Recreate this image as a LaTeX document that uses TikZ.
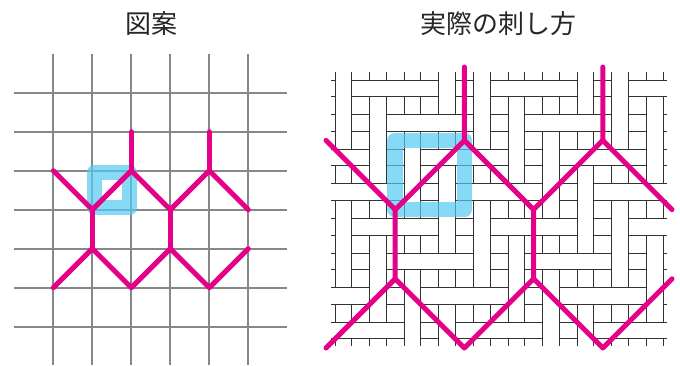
\documentclass[tikz,border=0pt]{standalone}
\usepackage{fontspec}
\newfontfamily\jpfont{Noto Sans CJK JP}
\definecolor{stitch}{RGB}{228,0,135}
\definecolor{cellmark}{RGB}{82,202,242}
\definecolor{gridgray}{RGB}{135,135,135}
\tikzset{
  gridline/.style={draw=gridgray, line width=1.8pt},
  stitchline/.style={draw=stitch, line width=5pt, line cap=round, line join=round},
  markbox/.style={draw=cellmark, line width=15.5pt, line join=round, opacity=0.7},
  thread/.style={draw=black!80, line width=0.8pt},
  title/.style={font=\jpfont\fontsize{26}{30}\selectfont, text=black!85}
}
\begin{document}
\begin{tikzpicture}[x=1pt,y=-1pt]
	\useasboundingbox (0,0) rectangle (680,365);
	\node[title] (design) at (151,24) {図案};
	\node[title] (actual) at (498,24) {実際の刺し方};
	% design grid
	\foreach \i in {0,...,5} \draw[gridline] (53.3+39*\i,54) -- (53.3+39*\i,365);
	\foreach \j in {0,...,6} \draw[gridline] (14,92.7+39*\j) -- (287.3,92.7+39*\j);
	\foreach \i in {0,...,5} \foreach \j in {0,...,6} \coordinate (L\i\j) at (53.3+39*\i,92.7+39*\j);
	\draw[markbox] (94.3,172.7) rectangle (129.3,207.7);
	\draw[stitchline] (L02) -- (L13) -- (L22) -- (L33) -- (L42) -- (L53);
	\draw[stitchline] (L22) -- (L21) (L42) -- (L41) (L13) -- (L14) (L33) -- (L34);
	\draw[stitchline] (L05) -- (L14) -- (L25) -- (L34) -- (L45) -- (L54);
	% canvas threads
	\foreach \j in {0,...,7} \draw[thread] (331,80+34.6*\j) -- (667,80+34.6*\j) (331,96.6+34.6*\j) -- (667,96.6+34.6*\j);
	\foreach \k in {0,...,9} \draw[thread] (335+34.6*\k,72) -- (335+34.6*\k,346) (351.6+34.6*\k,72) -- (351.6+34.6*\k,346);
	% 1 = warp on top, 0 = weft on top
	\foreach \j/\row in {0/{1,0,0,1,1,0,0,1,1,0},1/{1,1,0,0,1,1,0,0,1,1},2/{0,1,1,0,0,1,1,0,0,1},3/{0,0,1,1,0,0,1,1,0,0},
	                     4/{1,0,0,1,1,0,0,1,1,0},5/{1,1,0,0,1,1,0,0,1,1},6/{0,1,1,0,0,1,1,0,0,1},7/{0,0,1,1,0,0,1,1,0,0}}
	  \foreach [count=\k from 0] \v in \row {
	    \pgfmathsetmacro\xl{335+34.6*\k}
	    \pgfmathsetmacro\yt{80+34.6*\j}
	    \ifnum\v=1
	      \fill[white] (\xl,\yt-0.6) rectangle (\xl+16.6,\yt+17.2);
	      \draw[thread] (\xl,\yt-0.6) -- (\xl,\yt+17.2) (\xl+16.6,\yt-0.6) -- (\xl+16.6,\yt+17.2);
	    \else
	      \fill[white] (\xl-0.6,\yt) rectangle (\xl+17.2,\yt+16.6);
	      \draw[thread] (\xl-0.6,\yt) -- (\xl+17.2,\yt) (\xl-0.6,\yt+16.6) -- (\xl+17.2,\yt+16.6);
	    \fi
	  }
	\foreach \m in {0,2,...,10} \foreach \n in {2,4,...,8} \coordinate (R\m-\n) at (326+34.6*\m,71.2+34.6*\n);
	\coordinate (T4) at (464.4,67);
	\coordinate (T8) at (602.8,67);
	\draw[markbox] (R2-2) rectangle (R4-4);
	\draw[stitchline] (R0-2) -- (R2-4) -- (R4-2) -- (R6-4) -- (R8-2) -- (R10-4);
	\draw[stitchline] (R4-2) -- (T4) (R8-2) -- (T8) (R2-4) -- (R2-6) (R6-4) -- (R6-6);
	\draw[stitchline] (R0-8) -- (R2-6) -- (R4-8) -- (R6-6) -- (R8-8) -- (R10-6);
\end{tikzpicture}
\end{document}
